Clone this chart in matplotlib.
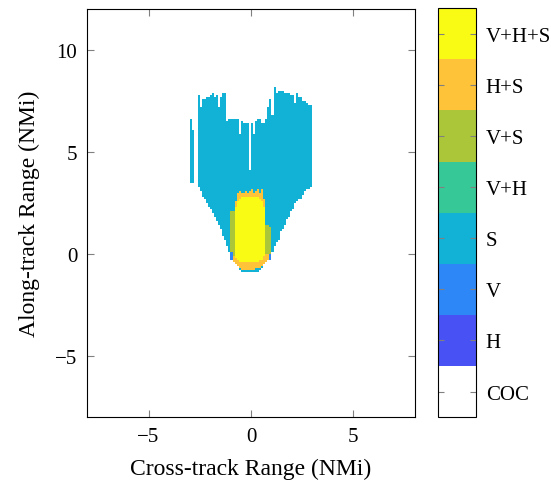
import numpy as np
import matplotlib
matplotlib.use("Agg")
import matplotlib.pyplot as plt
from matplotlib.colors import ListedColormap

plt.rcParams['font.family'] = ['Liberation Serif', 'DejaVu Serif']

# advisory categories and their colours (white + parula)
labels = ['COC', 'H', 'V', 'S', 'V+H', 'V+S', 'H+S', 'V+H+S']
colors = ['#FFFFFF', '#4852F4', '#2E87F7', '#12B1D6',
          '#37C897', '#ABC739', '#FEC338', '#F9FB15']

# 60 columns, 0.1 NMi wide, from x = -3.0 to 3.0: extent of the S region
s_bot = [3.55, 3.55, np.nan, np.nan, 3.3, 3.15, 2.85, 2.7, 2.5, 2.35,
         2.25, 2.0, 1.8, 1.65, 1.45, 1.25, 0.95, 0.7, 0.4, 0.1,
         -0.3, -0.4, -0.45, -0.6, -0.75, -0.85, -0.9, -0.9, -0.9, -0.9,
         -0.85, -0.9, -0.9, -0.9, -0.8, -0.65, -0.5, -0.35, -0.3, -0.3,
         0.05, 0.4, 0.55, 0.75, 1.05, 1.2, 1.4, 1.75, 1.85, 2.1,
         2.2, 2.55, 2.6, 2.7, 2.75, 2.95, 3.15, 3.2, 3.2, 3.3]
s_top = [6.6, 6.15, np.nan, np.nan, 7.85, 7.25, 7.65, 7.65, 7.75, 7.75,
         7.8, 7.95, 7.7, 7.85, 7.25, 7.7, 7.95, 7.95, 6.55, 6.65,
         6.65, 6.6, 6.65, 6.65, 5.95, 6.55, 6.45, 6.4, 6.4, 4.1,
         6.4, 5.95, 6.55, 6.65, 6.65, 6.4, 6.4, 6.6, 7.25, 7.6,
         6.8, 8.2, 7.95, 8.0, 8.05, 8.0, 7.95, 7.95, 7.9, 7.8,
         7.8, 7.45, 7.9, 7.75, 7.7, 7.55, 7.5, 7.4, 7.3, 7.3]

# inner 20 columns, x = -1.0 to 1.0
n = np.nan
hs_bot = [n, -0.4, -0.45, -0.6, -0.7, -0.75, -0.75, -0.75, -0.75, -0.75,
          -0.75, -0.75, -0.7, -0.7, -0.65, -0.55, -0.45, -0.35, -0.3, n]
hs_top = [n, -0.1, 2.6, 3.05, 3.15, 3.05, 3.05, 3.1, 3.0, 3.15,
          3.2, 3.05, 3.15, 3.2, 3.05, 3.2, 2.75, 0.0, 0.0, n]
vhs_bot = [n, n, -0.15, -0.3, -0.35, -0.4, -0.4, -0.4, -0.4, -0.4,
           -0.4, -0.4, -0.4, -0.35, -0.3, -0.25, -0.1, n, n, n]
vhs_top = [n, n, 2.3, 2.6, 2.75, 2.85, 2.85, 2.85, 2.85, 2.85,
           2.85, 2.85, 2.85, 2.8, 2.75, 2.65, 2.35, n, n, n]
vs_bot = [0.05, -0.1, n, n, n, n, n, n, n, n,
          n, n, n, n, n, n, n, 0.0, 0.0, 0.0]
vs_top = [2.1, 2.1, n, n, n, n, n, n, n, n,
          n, n, n, n, n, n, n, 1.4, 1.4, 1.35]
v_bot = [-0.3, n, n, n, n, n, n, n, n, n,
         n, n, n, n, n, n, n, n, n, -0.3]
v_top = [0.05, n, n, n, n, n, n, n, n, n,
         n, n, n, n, n, n, n, n, n, 0.0]

# policy grid
xe = np.linspace(-8, 8, 161)
ye = np.linspace(-8, 12, 201)
yc = 0.5 * (ye[:-1] + ye[1:])
Z = np.zeros((len(ye) - 1, len(xe) - 1))
first_col = int(np.argmin(np.abs(xe + 3.0)))
inner_col = int(np.argmin(np.abs(xe + 1.0)))


def fill(col, lo, hi, code):
    if np.isnan(lo) or np.isnan(hi):
        return
    Z[(yc >= lo) & (yc < hi), col] = code


for i in range(len(s_bot)):
    fill(first_col + i, s_bot[i], s_top[i], 3)
for k in range(len(hs_bot)):
    c = inner_col + k
    fill(c, hs_bot[k], hs_top[k], 6)
    fill(c, vhs_bot[k], vhs_top[k], 7)
    fill(c, vs_bot[k], vs_top[k], 5)
    fill(c, v_bot[k], v_top[k], 2)

fig = plt.figure(figsize=(5.51, 4.85), dpi=100)
ax = fig.add_axes([0.158, 0.138, 0.595, 0.841])
cax = fig.add_axes([0.795, 0.138, 0.069, 0.843])

cmap = ListedColormap(colors)
mesh = ax.pcolormesh(xe, ye, Z, cmap=cmap, vmin=-0.5, vmax=7.5,
                     shading='flat', antialiased=False, linewidth=0)
ax.set_xlim(-8, 8)
ax.set_ylim(-8, 12)
ax.set_xticks([-5, 0, 5])
ax.set_yticks([-5, 0, 5, 10])
ax.tick_params(direction='in', length=5, color='grey', top=True, right=True,
               labelsize=15)
ax.tick_params(axis='x', pad=7)
ax.tick_params(axis='y', pad=7)
ax.set_xlabel('Cross-track Range (NMi)', fontsize=17, labelpad=9)
ax.set_ylabel('Along-track Range (NMi)', fontsize=17, labelpad=11)

cb = fig.colorbar(mesh, cax=cax, ticks=range(8))
cb.set_ticklabels(labels)
cb.outline.set_linewidth(0.8)
cax.tick_params(direction='in', length=4, color='grey', left=True, right=True,
                labelsize=15, pad=7)

fig.savefig('out.png', dpi=100)
